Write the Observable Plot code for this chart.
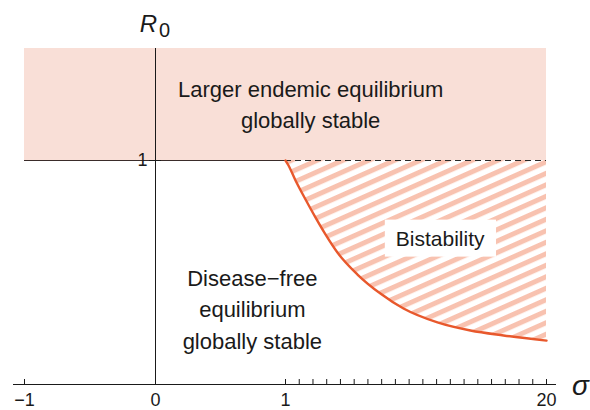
<!DOCTYPE html>
<html>
<head>
<meta charset="utf-8">
<script src="https://cdn.jsdelivr.net/npm/d3@7"></script>
<script src="https://cdn.jsdelivr.net/npm/@observablehq/plot@0.6"></script>
<style>
  html, body { margin: 0; padding: 0; background: #fff; }
  svg { display: block; }
</style>
</head>
<body>
<div id="chart"></div>
<script>
// Boundary curve of the bistability region (sigma vs R0)
const sigma = [1, 1.2, 1.73, 2.46, 3.18, 3.91, 4.78, 6.24, 7.91, 9.59, 12.06, 14.46, 16.87, 20];
const r0    = [1, 0.98, 0.911, 0.826, 0.746, 0.670, 0.589, 0.491, 0.406, 0.339, 0.277, 0.241, 0.219, 0.196];

// Axis ticks and labels
const xMinorTicks = [-1, 1, 2, 3, 4, 5, 6, 7, 8, 9, 10, 11, 12, 13, 14, 15, 16, 17, 18, 19, 20];
const xTickValues = [-1, 0, 1, 20];
const xTickLabels = ["\u22121", "0", "1", "20"];
const yTickValues = [1];
const yTickLabels = ["1"];

// Region bounds
const sigmaMin = -1, sigmaMax = 20, r0Threshold = 1, r0Top = 1.5;

// Region labels
const regionLabels = [
  {x: 2.83, y: 1.26, text: "Larger endemic equilibrium\nglobally stable"},
  {x: 0.745, y: 0.345, text: "Disease\u2212free\nequilibrium\nglobally stable"}
];
const bistLabel = [{x: 12.26, y: 0.65, text: "Bistability"}];

const curve = sigma.map((s, i) => ({sigma: s, r0: r0[i]}));
const xTicks = xTickValues.map((v, i) => ({v, label: xTickLabels[i]}));
const yTicks = yTickValues.map((v, i) => ({v, label: yTickLabels[i]}));

const font = "'Liberation Sans', Arial, sans-serif";
const ink = "#1a1a1a";

const plot = Plot.plot({
  width: 590,
  height: 410,
  margin: 0,
  style: {fontFamily: font, background: "#fff", color: ink, overflow: "visible"},
  x: {type: "linear", domain: [-1, 0, 1, 20], range: [24, 155, 285, 546], axis: null},
  y: {type: "linear", domain: [0, 1.5], range: [384, 48], axis: null},
  marks: [
    // endemic region
    Plot.rect([0], {x1: sigmaMin, x2: sigmaMax, y1: r0Threshold, y2: r0Top, fill: "#f9dfd7"}),
    // bistability hatch
    Plot.areaY(curve, {x: "sigma", y1: "r0", y2: r0Threshold, fill: "url(#hatch)", curve: "monotone-x"}),
    // threshold lines
    Plot.ruleY([r0Threshold], {x1: sigmaMin, x2: 1, stroke: "#3a2c2a", strokeWidth: 1.1}),
    Plot.ruleY([r0Threshold], {x1: 1, x2: sigmaMax, stroke: "#2a2a2a", strokeWidth: 1.2, strokeDasharray: "6,4"}),
    // boundary curve
    Plot.line(curve, {x: "sigma", y: "r0", stroke: "#e8582c", strokeWidth: 2.4, curve: "monotone-x"}),
    // axes
    Plot.ruleX([0], {y1: 0, y2: r0Top, stroke: ink, strokeWidth: 1}),
    Plot.ruleY([0], {x1: sigmaMin, x2: sigmaMax, insetLeft: -11, insetRight: -10, stroke: ink, strokeWidth: 1}),
    Plot.ruleX(xMinorTicks, {y1: 0, y2: 0, insetTop: -5, stroke: ink, strokeWidth: 1}),
    Plot.ruleY(yTicks, {y: "v", x1: 0, x2: 0, insetLeft: -6, insetRight: -6, stroke: ink, strokeWidth: 1}),
    Plot.text(xTicks, {x: "v", y: 0, text: "label", dy: 9, lineAnchor: "top", fontSize: 18, fill: ink}),
    Plot.text(yTicks, {x: 0, y: "v", text: "label", dx: -8, textAnchor: "end", lineAnchor: "middle", fontSize: 18, fill: ink}),
    // axis titles
    Plot.text(["R"], {x: 0, y: r0Top, text: d => d, dx: -7, dy: -17, fontSize: 24, fontStyle: "italic", fill: ink, lineAnchor: "bottom"}),
    Plot.text(["0"], {x: 0, y: r0Top, text: d => d, dx: 9, dy: -12, fontSize: 20, fill: ink, lineAnchor: "bottom"}),
    Plot.text(["\u03c3"], {x: sigmaMax, y: 0, text: d => d, dx: 34, dy: 2, fontSize: 28, fontStyle: "italic", fill: ink, lineAnchor: "middle"}),
    // region labels
    Plot.text(regionLabels, {x: "x", y: "y", text: "text", fontSize: 22, lineHeight: 1.45, fill: ink, lineAnchor: "middle"}),
    Plot.text(bistLabel, {x: "x", y: "y", text: "text", fontSize: 21, fill: ink, lineAnchor: "middle", className: "bist-label"})
  ]
});

// hatch pattern definition
const svgNS = "http://www.w3.org/2000/svg";
const defs = document.createElementNS(svgNS, "defs");
defs.innerHTML = `<pattern id="hatch" patternUnits="userSpaceOnUse" width="20" height="10.5" patternTransform="rotate(-24)">
  <rect x="0" y="0" width="20" height="5" fill="#f8c2b0"></rect></pattern>`;
plot.insertBefore(defs, plot.firstChild);

document.getElementById("chart").appendChild(plot);

// white background behind "Bistability"
const bg = plot.querySelector(".bist-label");
if (bg) {
  const t = bg.querySelector("text");
  const b = t.getBBox();
  const r = document.createElementNS(svgNS, "rect");
  r.setAttribute("x", b.x - 11);
  r.setAttribute("y", b.y - 7);
  r.setAttribute("width", b.width + 22);
  r.setAttribute("height", b.height + 14);
  r.setAttribute("fill", "#fff");
  const tr = t.getAttribute("transform");
  if (tr) r.setAttribute("transform", tr);
  t.parentNode.insertBefore(r, t);
}
</script>
</body>
</html>
